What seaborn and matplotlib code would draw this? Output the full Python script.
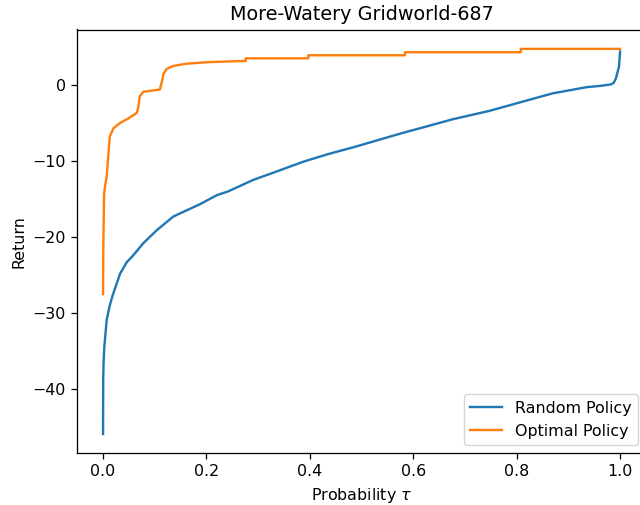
import matplotlib
matplotlib.use("Agg")
import matplotlib.pyplot as plt
import seaborn as sns
import pandas as pd

# Quantile curves of the return distribution for each policy
random_tau = [0.0, 0.0003, 0.001, 0.0025, 0.007, 0.013, 0.018, 0.023, 0.033,
              0.046, 0.0585, 0.078, 0.104, 0.136, 0.155, 0.187, 0.22, 0.242,
              0.258, 0.29, 0.339, 0.387, 0.435, 0.484, 0.532, 0.58, 0.629,
              0.677, 0.748, 0.806, 0.87, 0.935, 0.965, 0.983, 0.988, 0.992,
              0.998, 1.0]
random_ret = [-45.9, -38.8, -36.5, -34.4, -30.9, -29.0, -27.8, -26.8, -24.8,
              -23.3, -22.4, -20.8, -19.1, -17.3, -16.7, -15.7, -14.5, -14.0,
              -13.5, -12.5, -11.3, -10.1, -9.1, -8.2, -7.25, -6.3, -5.4,
              -4.5, -3.4, -2.3, -1.1, -0.3, -0.1, 0.08, 0.3, 0.87,
              2.4, 4.4]

optimal_tau = [0.0, 0.0005, 0.002, 0.005, 0.007, 0.01, 0.013, 0.02, 0.033,
               0.049, 0.065, 0.068, 0.071, 0.078, 0.11, 0.114, 0.117, 0.123,
               0.136, 0.162, 0.204, 0.276, 0.276, 0.397, 0.397, 0.584, 0.584,
               0.808, 0.808, 1.0]
optimal_ret = [-27.5, -21.3, -14.3, -12.8, -12.1, -9.4, -6.8, -5.7, -5.0,
               -4.4, -3.7, -3.0, -1.5, -0.9, -0.6, 0.5, 1.5, 2.1,
               2.5, 2.8, 3.0, 3.16, 3.5, 3.5, 3.9, 3.9, 4.3,
               4.3, 4.74, 4.74]

random_df = pd.DataFrame({"tau": random_tau, "ret": random_ret})
optimal_df = pd.DataFrame({"tau": optimal_tau, "ret": optimal_ret})

scale = 1.146
plt.rcParams.update({
    "font.family": ["DejaVu Sans"],
    "font.size": 10 * scale,
    "axes.linewidth": 0.8 * scale,
    "xtick.major.size": 3.5 * scale,
    "ytick.major.size": 3.5 * scale,
    "xtick.major.width": 0.8 * scale,
    "ytick.major.width": 0.8 * scale,
    "xtick.major.pad": 3.5 * scale,
    "ytick.major.pad": 3.5 * scale,
})

fig = plt.figure(figsize=(6.4, 5.05), dpi=100)
ax = fig.add_axes([77.2 / 640, 52 / 505, 568.7 / 640, 423.5 / 505])

sns.lineplot(data=random_df, x="tau", y="ret", estimator=None, sort=False,
             color="#1f77b4", linewidth=1.5 * scale, label="Random Policy", ax=ax)
sns.lineplot(data=optimal_df, x="tau", y="ret", estimator=None, sort=False,
             color="#ff7f0e", linewidth=1.5 * scale, label="Optimal Policy", ax=ax)

ax.set_xlim(-0.05, 1.05)
ax.set_ylim(-48.4, 7.29)
ax.set_xticks([0.0, 0.2, 0.4, 0.6, 0.8, 1.0])
ax.set_yticks([-40, -30, -20, -10, 0])
ax.set_yticklabels(["\u221240", "\u221230", "\u221220", "\u221210", "0"])
ax.set_title("More-Watery Gridworld-687", fontsize=12 * scale, pad=6 * scale)
ax.set_xlabel(r"Probability $\tau$", fontsize=10 * scale, labelpad=4 * scale)
ax.set_ylabel("Return", fontsize=10 * scale, labelpad=4 * scale)
ax.legend(loc="lower right", fontsize=10 * scale)

fig.savefig("out.png", dpi=100)
